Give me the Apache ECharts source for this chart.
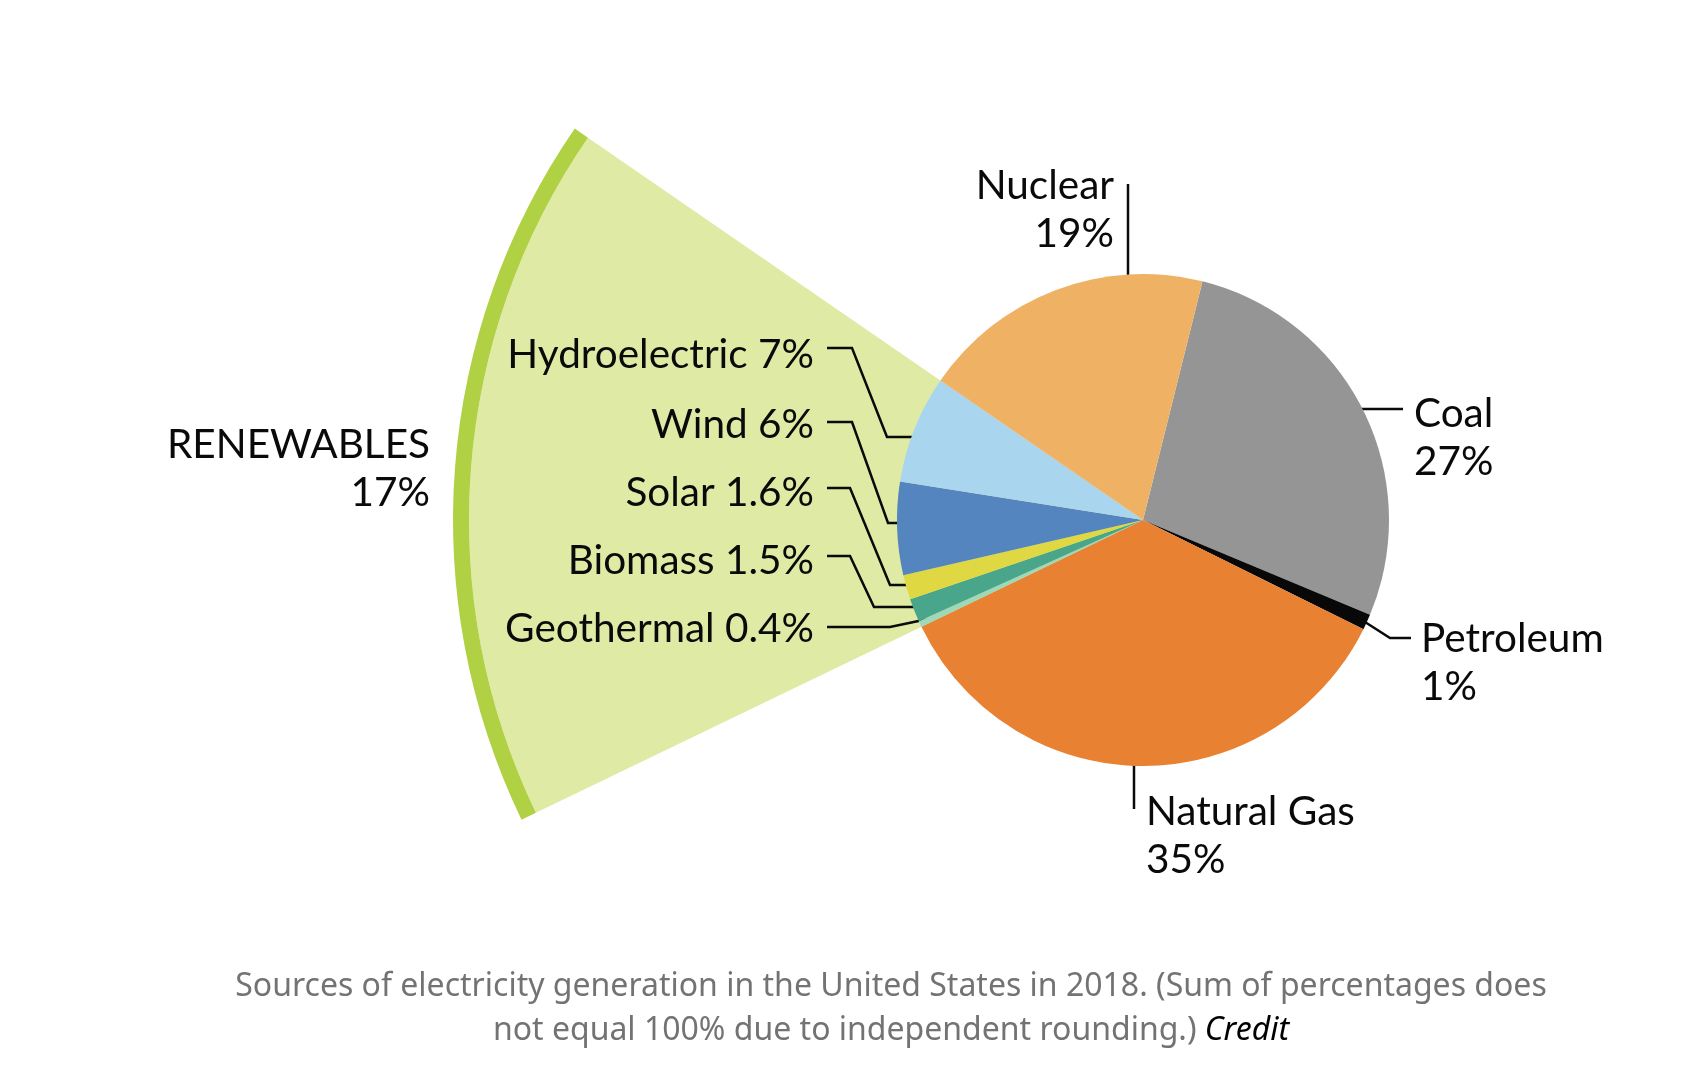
<!DOCTYPE html>
<html lang="en">
<head>
<meta charset="UTF-8">
<title>US electricity sources 2018</title>
<script src="https://cdn.jsdelivr.net/npm/echarts@6/dist/echarts.min.js"></script>
<style>
  html, body { margin: 0; padding: 0; background: #fff; }
  #chart { width: 1696px; height: 1082px; }
</style>
</head>
<body>
<div id="chart"></div>
<script>
// shares of US electricity generation, 2018, clockwise from the Nuclear/Coal edge
const sources = ['Coal', 'Petroleum', 'Natural Gas', 'Geothermal', 'Biomass', 'Solar', 'Wind', 'Hydroelectric', 'Nuclear'];
const shares = [27, 1, 35, 0.4, 1.5, 1.6, 6, 7, 19];
const shareLabels = ['27%', '1%', '35%', '0.4%', '1.5%', '1.6%', '6%', '7%', '19%'];
const renewableSources = ['Geothermal', 'Biomass', 'Solar', 'Wind', 'Hydroelectric'];
const renewablesLabel = ['RENEWABLES', '17%'];

const colors = {
  'Coal': '#959595', 'Petroleum': '#080808', 'Natural Gas': '#e98132',
  'Geothermal': '#9dd8b8', 'Biomass': '#4aa68a', 'Solar': '#e0d843',
  'Wind': '#5585bf', 'Hydroelectric': '#a9d5ee', 'Nuclear': '#efb264'
};

// where each label sits and how its leader runs (page pixels)
const labelSpots = {
  'Nuclear':      { x: 1114, y: 210, align: 'right', line: [[1128, 184], [1128, 307]] },
  'Coal':         { x: 1414, y: 438, align: 'left',  line: [[1341, 409], [1403, 409]] },
  'Petroleum':    { x: 1421, y: 663, align: 'left',  line: [[1365, 622], [1390, 638], [1411, 638]] },
  'Natural Gas':  { x: 1146, y: 836, align: 'left',  line: [[1134, 744], [1134, 809]] },
  'Hydroelectric':{ x: 814, y: 355, align: 'right', line: [[827, 348], [852, 348], [887, 437], [922, 437]] },
  'Wind':         { x: 814, y: 425, align: 'right', line: [[827, 422], [852, 422], [888, 523], [909, 523]] },
  'Solar':        { x: 814, y: 493, align: 'right', line: [[827, 488], [850, 488], [890, 585], [915, 585]] },
  'Biomass':      { x: 814, y: 561, align: 'right', line: [[827, 556], [850, 556], [874, 607], [925, 607]] },
  'Geothermal':   { x: 814, y: 629, align: 'right', line: [[827, 627], [890, 627], [928, 619]] },
  'RENEWABLES':   { x: 430, y: 469, align: 'right' }
};

const center = [1143, 520];
const startAngle = 76;

const chart = echarts.init(document.getElementById('chart'));

const pieData = sources.map((name, i) => ({
  name: name,
  value: shares[i],
  itemStyle: { color: colors[name] },
  label: {
    formatter: renewableSources.includes(name)
      ? name + ' ' + shareLabels[i]
      : name + '\n' + shareLabels[i]
  }
}));

// renewables wedge: the same circle, only the renewables part is painted
let before = 0, renew = 0, after = 0;
sources.forEach((name, i) => {
  if (renewableSources.includes(name)) renew += shares[i];
  else if (renew === 0) before += shares[i];
  else after += shares[i];
});
const hidden = { color: 'rgba(0,0,0,0)' };
function wedgeData(color, withLabel) {
  return [
    { name: 'before', value: before, itemStyle: hidden, label: { show: false } },
    { name: 'RENEWABLES', value: renew, itemStyle: { color: color },
      label: { show: withLabel, formatter: renewablesLabel.join('\n') } },
    { name: 'after', value: after, itemStyle: hidden, label: { show: false } }
  ];
}

function placeLabel(names) {
  return function (params) {
    const spot = labelSpots[names[params.dataIndex]];
    if (!spot) return {};
    const out = { x: spot.x, y: spot.y, align: spot.align, verticalAlign: 'middle' };
    if (spot.line) out.labelLinePoints = spot.line;
    return out;
  };
}

const labelStyle = {
  show: true,
  color: '#0a0a0a',
  fontFamily: 'Lato',
  fontSize: 40.5,
  lineHeight: 48
};

const captionStyle = { fill: '#737373', fontFamily: 'Noto Sans', fontSize: 32 };

chart.setOption({
  animation: false,
  series: [
    {
      type: 'pie', silent: true, center: center, radius: [0, 674],
      startAngle: startAngle, clockwise: true, z: 1,
      label: Object.assign({}, labelStyle, { position: 'outside' }),
      labelLine: { show: false },
      labelLayout: placeLabel(['before', 'RENEWABLES', 'after']),
      data: wedgeData('#dfeba5', true)
    },
    {
      type: 'pie', silent: true, center: center, radius: [674, 690],
      startAngle: startAngle, clockwise: true, z: 1,
      label: { show: false }, labelLine: { show: false },
      data: wedgeData('#b0d143', false)
    },
    {
      type: 'pie', silent: true, center: center, radius: [0, 246],
      startAngle: startAngle, clockwise: true, z: 2,
      avoidLabelOverlap: false,
      label: labelStyle,
      labelLine: { show: true, smooth: false, lineStyle: { color: '#0a0a0a', width: 2.5 } },
      labelLayout: placeLabel(sources),
      data: pieData
    }
  ],
  graphic: [
    {
      type: 'text', x: 891, y: 987,
      style: Object.assign({
        text: 'Sources of electricity generation in the United States in 2018. (Sum of percentages does',
        align: 'center', verticalAlign: 'middle'
      }, captionStyle)
    },
    {
      type: 'text', x: 891, y: 1031,
      style: {
        text: '{g|not equal 100% due to independent rounding.) }{c|Credit}',
        align: 'center', verticalAlign: 'middle',
        rich: {
          g: captionStyle,
          c: Object.assign({}, captionStyle, { fill: '#000', fontStyle: 'italic' })
        }
      }
    }
  ]
});
</script>
</body>
</html>
